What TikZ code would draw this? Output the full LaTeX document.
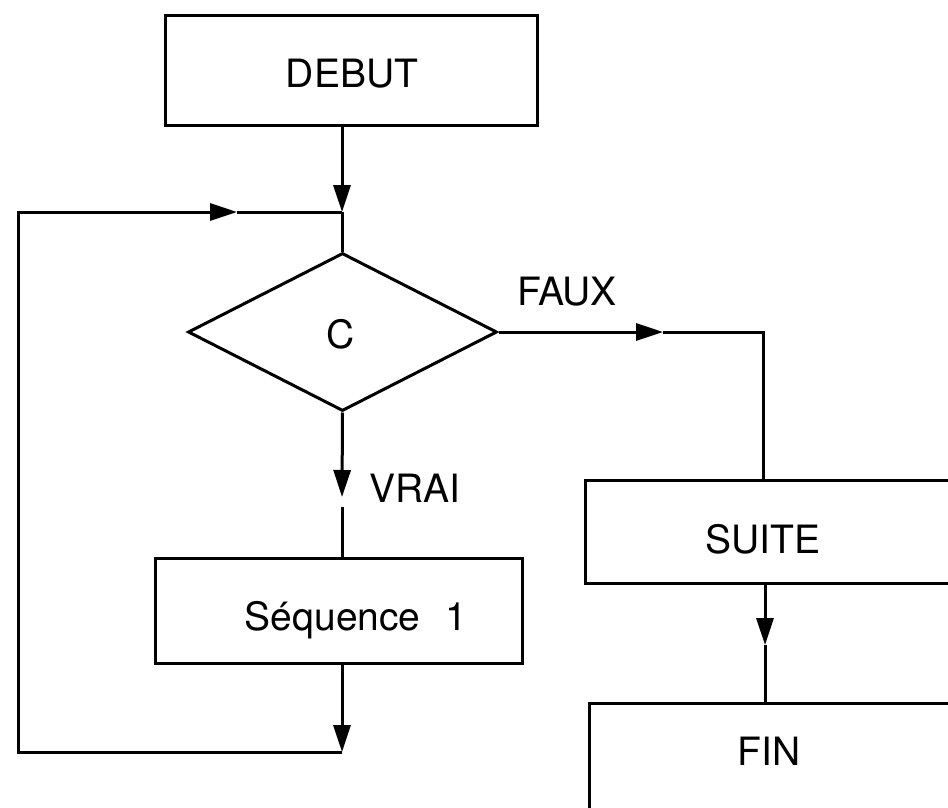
\documentclass[tikz,border=0pt]{standalone}
\usepackage{fontspec}
\setmainfont{TeX Gyre Heros}
\usetikzlibrary{arrows.meta,shapes.geometric}
\begin{document}
\begin{tikzpicture}[x=1pt,y=-1pt,
  line width=3pt,
  boxshape/.style={draw,rectangle,inner sep=0pt},
  condshape/.style={draw,diamond,inner sep=0pt,minimum width=309pt,minimum height=158pt},
  lbl/.style={font=\fontsize{39}{46}\selectfont,inner sep=0pt,anchor=base},
  arr/.style={-{Triangle[length=27pt,width=17pt]}},
]
\useasboundingbox (0,0) rectangle (948,808);
\clip (0,0) rectangle (948,808);

% boxes
\node[boxshape,minimum width=372pt,minimum height=109pt] (debut) at (351,70.5) {};
\node[lbl] (debuttxt) at (352,88) {DEBUT};

\node[condshape] (cond) at (342.5,332) {};
\node[lbl] (condtxt) at (341,348) {C};

\node[boxshape,minimum width=367pt,minimum height=105pt] (seq) at (338.5,610.5) {};
\node[lbl] (seqtxt) at (356,630) {Séquence\hspace{14pt} 1};

\node[boxshape,minimum width=415pt,minimum height=103pt] (suite) at (792.5,531.5) {};
\node[lbl] (suitetxt) at (763,553) {SUITE};

\node[boxshape,minimum width=411pt,minimum height=177pt] (fin) at (794.5,791.5) {};
\node[lbl] (fintxt) at (769,765) {FIN};

% labels
\node[lbl] (faux) at (567,305) {FAUX};
\node[lbl] (vrai) at (415,502) {VRAI};

% coordinates
\coordinate (j) at (342,212);
\coordinate (vt) at (342,497);
\coordinate (vs) at (342,507);
\coordinate (lb) at (342,752);
\coordinate (lbl) at (18,752);
\coordinate (ltl) at (18,212);
\coordinate (lt) at (237,212);
\coordinate (ft) at (663,332);
\coordinate (fc) at (763,332);
\coordinate (st) at (765,645);

% connectors
\draw[arr] (debut.south -| j) -- (j);
\draw (j) -- (j |- cond.north);
\draw[arr] (cond.south) -- (vt);
\draw (vs) -- (vs |- seq.north);
\draw[arr] (seq.south -| lb) -- (lb);
\draw[arr] (lb) -- (lbl) -- (ltl) -- (lt);
\draw (lt) -- (j);
\draw[arr] (cond.east) -- (ft);
\draw (ft) -- (fc) -- (suite.north -| fc);
\draw[arr] (suite.south -| st) -- (st);
\draw (st) -- (st |- fin.north);
\end{tikzpicture}
\end{document}
